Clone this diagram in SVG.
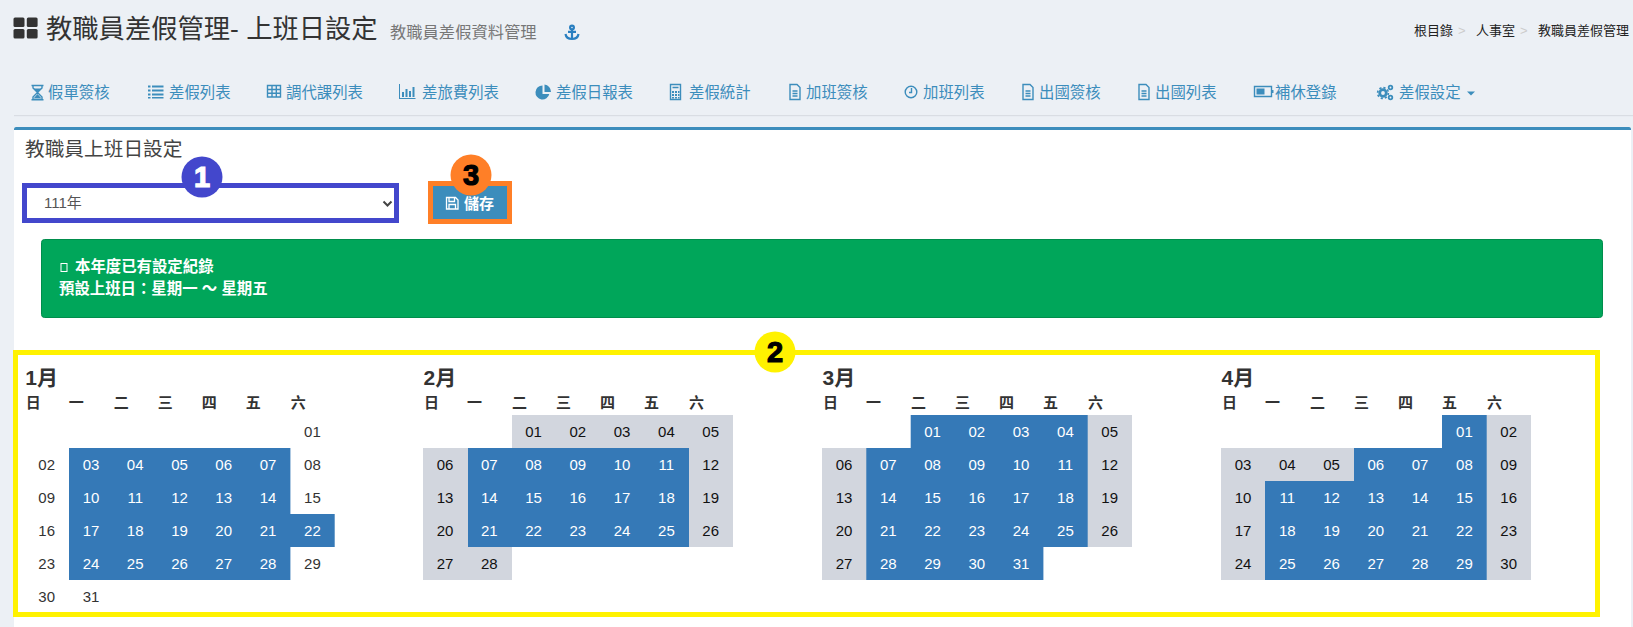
<svg xmlns="http://www.w3.org/2000/svg" width="1633" height="627" viewBox="0 0 1633 627">
<style>
text{font-family:"Liberation Sans","Noto Sans CJK TC",sans-serif}
.nav{font-size:15.400px;fill:#3c8dbc}
.ic{fill:#3c8dbc}
.ol{fill:none;stroke:#3c8dbc;stroke-width:1.400}
.bc{font-size:13px;fill:#222}
.sep{font-size:13px;fill:#ccc}
.mt{font-size:21px;font-weight:bold;fill:#333}
.wd{font-size:15px;font-weight:bold;fill:#333}
.d{font-size:15px;text-anchor:middle;fill:#333}
.k{font-size:15px;text-anchor:middle;fill:#111}
.w{font-size:15px;text-anchor:middle;fill:#fff}
.b{fill:#3579b7}
.g{fill:#d2d6de}
.al{font-size:15.400px;font-weight:bold;fill:#fff}
.num{font-family:"Liberation Sans",sans-serif;font-size:29px;font-weight:bold;text-anchor:middle;stroke-width:1.200}
</style>
<defs>
<g id="doc"><path class="ol" d="M-5-7.500H2L5-4.500V7.500H-5Z"/><path class="ol" d="M-2.500-1H2.500M-2.500 1.500H2.500M-2.500 4H2.500"/></g>
<g id="hdr">
<text class="wd" x="1" y="408">日</text><text class="wd" x="44" y="408">一</text><text class="wd" x="89" y="408">二</text><text class="wd" x="133" y="408">三</text><text class="wd" x="177" y="408">四</text><text class="wd" x="221" y="408">五</text><text class="wd" x="266" y="408">六</text>
</g>
</defs>
<rect width="1633" height="627" fill="#ecf0f5"/>
<g id="header">
<g fill="#333"><rect x="13.500" y="17.500" width="11" height="9.500" rx="1.500"/><rect x="26.800" y="17.500" width="10.800" height="9.500" rx="1.500"/><rect x="13.500" y="29" width="11" height="9.500" rx="1.500"/><rect x="26.800" y="29" width="10.800" height="9.500" rx="1.500"/></g>
<text x="46" y="38" font-size="26.300" fill="#333">教職員差假管理- 上班日設定</text>
<text x="390" y="38" font-size="16.300" fill="#777">教職員差假資料管理</text>
<g fill="none" stroke="#2a7fc0" stroke-width="2.200"><circle cx="572" cy="27.500" r="1.900"/><path d="M572 29.500V39M568 31.800H576M565.500 34c.5 3.300 3 5 6.500 5s6-1.700 6.500-5"/></g>
<text class="bc" x="1414" y="35">根目錄</text><text class="sep" x="1458" y="35">&gt;</text>
<text class="bc" x="1476" y="35">人事室</text><text class="sep" x="1520" y="35">&gt;</text>
<text class="bc" x="1538" y="35">教職員差假管理</text>
</g>
<g id="nav">
<text class="nav" x="48" y="97.500">假單簽核</text><text class="nav" x="169" y="97.500">差假列表</text><text class="nav" x="286" y="97.500">調代課列表</text><text class="nav" x="422" y="97.500">差旅費列表</text><text class="nav" x="556" y="97.500">差假日報表</text><text class="nav" x="689" y="97.500">差假統計</text><text class="nav" x="806" y="97.500">加班簽核</text><text class="nav" x="923" y="97.500">加班列表</text><text class="nav" x="1039" y="97.500">出國簽核</text><text class="nav" x="1155" y="97.500">出國列表</text><text class="nav" x="1275" y="97.500">補休登錄</text><text class="nav" x="1399" y="97.500">差假設定</text>
<path class="ol" d="M31.500 85.500h12M33 85.500v2.500l4.500 4.500-4.500 4.500v2.500M42 85.500v2.500l-4.500 4.500 4.500 4.500v2.500M31.500 99.700h12"/><path class="ic" d="M33.500 88.500h8l-4 4ZM37.500 94l4 4.500h-8Z"/>
<path class="ic" d="M148 85.500h2.500v2h-2.500ZM152 85.500h11.500v2H152ZM148 89.500h2.500v2h-2.500ZM152 89.500h11.500v2H152ZM148 93.500h2.500v2h-2.500ZM152 93.500h11.500v2H152ZM148 97h2.500v1.500h-2.500ZM152 97h11.500v1.500H152Z"/>
<path class="ol" d="M267.500 85.500h13v11.500h-13ZM267.500 89.500h13M267.500 93.200h13M272 85.500v11.500M276.300 85.500v11.500"/>
<path class="ic" d="M399 84h1v14h15.500v1H399ZM402 92h2v5h-2ZM405.500 89h2v8h-2ZM409 91h2v6h-2ZM412.500 87h2v10h-2Z"/>
<path class="ic" d="M542.500 85.500a7 7 0 1 0 6.800 8.500h-6.800ZM544.500 84.500v7.500h6.500a7.500 7.500 0 0 0-6.500-7.500Z"/>
<path class="ol" d="M670.500 84.500h10v15h-10ZM672.500 87.500h6"/><path class="ic" d="M672 91h2v2h-2ZM675 91h2v2h-2ZM678 91h1.500v2H678ZM672 94h2v2h-2ZM675 94h2v2h-2ZM678 94h1.500v2H678ZM672 97h2v1.500h-2ZM675 97h2v1.500h-2ZM678 97h1.500v1.500H678Z"/>
<use href="#doc" x="795" y="92"/>
<circle class="ol" cx="911" cy="92" r="5.800"/><path class="ol" d="M911.500 88v4.500H909"/>
<use href="#doc" x="1028" y="92"/><use href="#doc" x="1144" y="92"/>
<path class="ol" d="M1254.500 86.500h17v10h-17Z"/><path class="ic" d="M1256.500 88.500h8v6h-8Z"/><rect class="ic" x="1272" y="90" width="1.500" height="3"/>
<g fill="none" stroke="#3c8dbc"><circle cx="1383" cy="93" r="3.300" stroke-width="2.800"/><circle cx="1383" cy="93" r="5.400" stroke-width="1.600" stroke-dasharray="2.200 2"/><circle cx="1390.500" cy="87.500" r="1.800" stroke-width="1.800"/><circle cx="1390.500" cy="97.500" r="1.800" stroke-width="1.800"/></g>
<path class="ic" d="M1467 91.500h8l-4 4Z"/>
</g>
<rect x="14" y="115" width="1619" height="1.200" fill="#d9dde3"/>
<rect x="14" y="127" width="1617" height="500" fill="#fff"/>
<path d="M14 130v-1a2 2 0 0 1 2-2H1629a2 2 0 0 1 2 2v1Z" fill="#3c8dbc"/>
<text x="25" y="156" font-size="19.700" fill="#444">教職員上班日設定</text>
<g id="select">
<rect x="24.500" y="185.500" width="372" height="35" fill="#fff" stroke="#4347cc" stroke-width="5"/>
<text x="44" y="208" font-size="15" fill="#555">111年</text>
<path d="M383.500 201.500l4 4 4-4" fill="none" stroke="#444" stroke-width="2"/>
</g>
<g id="save">
<rect x="430.500" y="183.500" width="79" height="38" fill="#3c8dbc" stroke="#ff7f27" stroke-width="5"/>
<path d="M446.500 197.500h9l2.500 2.500v9h-11.500ZM449 198v3.500h5.500V198M449 208.500v-4h6.500v4" fill="none" stroke="#fff" stroke-width="1.300"/>
<text x="464" y="209" font-size="15" font-weight="bold" fill="#fff">儲存</text>
</g>
<g id="alert">
<rect x="41.500" y="239.500" width="1561" height="78" rx="3" fill="#00a65a" stroke="#008d4c"/>
<rect x="61" y="263.500" width="6" height="8" fill="none" stroke="#fff"/>
<text class="al" x="75" y="271.500">本年度已有設定紀錄</text>
<text class="al" x="59" y="294">預設上班日：星期一 ～ 星期五</text>
</g>
<rect x="15.500" y="352.500" width="1582" height="262" fill="none" stroke="#fff200" stroke-width="5"/>
<g id="m1" transform="translate(24.700 0)">
<text class="mt" x="0.500" y="385">1月</text><use href="#hdr"/>
<path class="b" d="M44.300 448H265.700V514H310V547H265.700V580H44.300Z"/>
<text class="d" x="287.700" y="437">01</text>
<text class="d" x="22" y="470">02</text><text class="w" x="66.300" y="470">03</text><text class="w" x="110.500" y="470">04</text><text class="w" x="154.800" y="470">05</text><text class="w" x="199" y="470">06</text><text class="w" x="243.400" y="470">07</text><text class="d" x="287.700" y="470">08</text>
<text class="d" x="22" y="503">09</text><text class="w" x="66.300" y="503">10</text><text class="w" x="110.500" y="503">11</text><text class="w" x="154.800" y="503">12</text><text class="w" x="199" y="503">13</text><text class="w" x="243.400" y="503">14</text><text class="d" x="287.700" y="503">15</text>
<text class="d" x="22" y="536">16</text><text class="w" x="66.300" y="536">17</text><text class="w" x="110.500" y="536">18</text><text class="w" x="154.800" y="536">19</text><text class="w" x="199" y="536">20</text><text class="w" x="243.400" y="536">21</text><text class="w" x="287.700" y="536">22</text>
<text class="d" x="22" y="569">23</text><text class="w" x="66.300" y="569">24</text><text class="w" x="110.500" y="569">25</text><text class="w" x="154.800" y="569">26</text><text class="w" x="199" y="569">27</text><text class="w" x="243.400" y="569">28</text><text class="d" x="287.700" y="569">29</text>
<text class="d" x="22" y="602">30</text><text class="d" x="66.300" y="602">31</text>
</g>
<g id="m2" transform="translate(423 0)">
<text class="mt" x="0.500" y="385">2月</text><use href="#hdr"/>
<path class="g" d="M89 415H310V547H89V580H0V448H89Z"/>
<rect class="b" x="45" y="448" width="221" height="99"/>
<text class="k" x="110.500" y="437">01</text><text class="k" x="154.800" y="437">02</text><text class="k" x="199" y="437">03</text><text class="k" x="243.400" y="437">04</text><text class="k" x="287.700" y="437">05</text>
<text class="k" x="22" y="470">06</text><text class="w" x="66.300" y="470">07</text><text class="w" x="110.500" y="470">08</text><text class="w" x="154.800" y="470">09</text><text class="w" x="199" y="470">10</text><text class="w" x="243.400" y="470">11</text><text class="k" x="287.700" y="470">12</text>
<text class="k" x="22" y="503">13</text><text class="w" x="66.300" y="503">14</text><text class="w" x="110.500" y="503">15</text><text class="w" x="154.800" y="503">16</text><text class="w" x="199" y="503">17</text><text class="w" x="243.400" y="503">18</text><text class="k" x="287.700" y="503">19</text>
<text class="k" x="22" y="536">20</text><text class="w" x="66.300" y="536">21</text><text class="w" x="110.500" y="536">22</text><text class="w" x="154.800" y="536">23</text><text class="w" x="199" y="536">24</text><text class="w" x="243.400" y="536">25</text><text class="k" x="287.700" y="536">26</text>
<text class="k" x="22" y="569">27</text><text class="k" x="66.300" y="569">28</text>
</g>
<g id="m3" transform="translate(822 0)">
<text class="mt" x="0.500" y="385">3月</text><use href="#hdr"/>
<path class="g" d="M265 415H310V547H265ZM0 448H45V580H0Z"/>
<path class="b" d="M88.700 415H265.700V547H221.400V580H44.300V448H88.700Z"/>
<text class="w" x="110.500" y="437">01</text><text class="w" x="154.800" y="437">02</text><text class="w" x="199" y="437">03</text><text class="w" x="243.400" y="437">04</text><text class="k" x="287.700" y="437">05</text>
<text class="k" x="22" y="470">06</text><text class="w" x="66.300" y="470">07</text><text class="w" x="110.500" y="470">08</text><text class="w" x="154.800" y="470">09</text><text class="w" x="199" y="470">10</text><text class="w" x="243.400" y="470">11</text><text class="k" x="287.700" y="470">12</text>
<text class="k" x="22" y="503">13</text><text class="w" x="66.300" y="503">14</text><text class="w" x="110.500" y="503">15</text><text class="w" x="154.800" y="503">16</text><text class="w" x="199" y="503">17</text><text class="w" x="243.400" y="503">18</text><text class="k" x="287.700" y="503">19</text>
<text class="k" x="22" y="536">20</text><text class="w" x="66.300" y="536">21</text><text class="w" x="110.500" y="536">22</text><text class="w" x="154.800" y="536">23</text><text class="w" x="199" y="536">24</text><text class="w" x="243.400" y="536">25</text><text class="k" x="287.700" y="536">26</text>
<text class="k" x="22" y="569">27</text><text class="w" x="66.300" y="569">28</text><text class="w" x="110.500" y="569">29</text><text class="w" x="154.800" y="569">30</text><text class="w" x="199" y="569">31</text>
</g>
<g id="m4" transform="translate(1221 0)">
<text class="mt" x="0.500" y="385">4月</text><use href="#hdr"/>
<path class="g" d="M265 415H310V580H0V448H265Z"/>
<path class="b" d="M221 415H265.700V580H44V481H133V448H221Z"/>
<text class="w" x="243.400" y="437">01</text><text class="k" x="287.700" y="437">02</text>
<text class="k" x="22" y="470">03</text><text class="k" x="66.300" y="470">04</text><text class="k" x="110.500" y="470">05</text><text class="w" x="154.800" y="470">06</text><text class="w" x="199" y="470">07</text><text class="w" x="243.400" y="470">08</text><text class="k" x="287.700" y="470">09</text>
<text class="k" x="22" y="503">10</text><text class="w" x="66.300" y="503">11</text><text class="w" x="110.500" y="503">12</text><text class="w" x="154.800" y="503">13</text><text class="w" x="199" y="503">14</text><text class="w" x="243.400" y="503">15</text><text class="k" x="287.700" y="503">16</text>
<text class="k" x="22" y="536">17</text><text class="w" x="66.300" y="536">18</text><text class="w" x="110.500" y="536">19</text><text class="w" x="154.800" y="536">20</text><text class="w" x="199" y="536">21</text><text class="w" x="243.400" y="536">22</text><text class="k" x="287.700" y="536">23</text>
<text class="k" x="22" y="569">24</text><text class="w" x="66.300" y="569">25</text><text class="w" x="110.500" y="569">26</text><text class="w" x="154.800" y="569">27</text><text class="w" x="199" y="569">28</text><text class="w" x="243.400" y="569">29</text><text class="k" x="287.700" y="569">30</text>
</g>
<g id="badge1"><circle cx="202" cy="177" r="20.500" fill="#4347cc"/><text class="num" x="202" y="187" fill="#fff" stroke="#fff">1</text></g>
<g id="badge2"><circle cx="775" cy="352" r="20.500" fill="#fff200"/><text class="num" x="775" y="362" fill="#000" stroke="#000">2</text></g>
<g id="badge3"><circle cx="471" cy="175" r="20.500" fill="#ff7f27"/><text class="num" x="471" y="185" fill="#000" stroke="#000">3</text></g>
</svg>
